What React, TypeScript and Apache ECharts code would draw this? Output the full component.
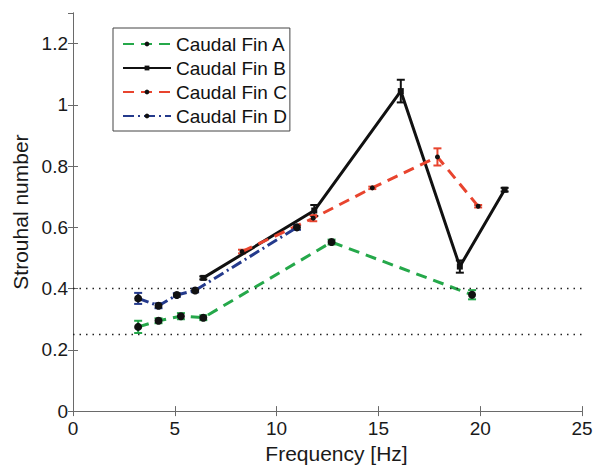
import React, { useEffect, useRef } from "react";
import * as echarts from "echarts";

const finAFreq = [3.2, 4.2, 5.3, 6.4, 12.7, 19.6];
const finASt = [0.275, 0.295, 0.31, 0.305, 0.552, 0.38];
const finAErr = [0.02, 0.008, 0.01, 0.008, 0.008, 0.015];

const finBFreq = [6.4, 11.85, 16.1, 19.0, 21.2];
const finBSt = [0.435, 0.655, 1.045, 0.472, 0.723];
const finBErr = [0.005, 0.018, 0.037, 0.02, 0.006];

const finCFreq = [8.3, 11.8, 14.7, 17.9, 19.9];
const finCSt = [0.521, 0.63, 0.729, 0.83, 0.669];
const finCErr = [0.006, 0.01, 0.004, 0.028, 0.004];

const finDFreq = [3.2, 4.2, 5.1, 6.0, 11.0];
const finDSt = [0.368, 0.344, 0.379, 0.394, 0.6];
const finDErr = [0.018, 0.008, 0.006, 0.006, 0.008];

const refLevels = [0.4, 0.25];
const seriesNames = ["Caudal Fin A", "Caudal Fin B", "Caudal Fin C", "Caudal Fin D"];

const FONT = "'Liberation Sans', Arial, Helvetica, sans-serif";

function pairs(xs: number[], ys: number[]) {
  return xs.map((x, i) => [x, ys[i]]);
}
function errData(xs: number[], ys: number[], es: number[]) {
  return xs.map((x, i) => [x, ys[i] - es[i], ys[i] + es[i]]);
}

function errorSeries(data: number[][], color: string) {
  return {
    type: "custom",
    silent: true,
    z: 1,
    data,
    renderItem: (params: any, api: any) => {
      const x = api.value(0);
      const lo = api.coord([x, api.value(1)]);
      const hi = api.coord([x, api.value(2)]);
      const w = 4;
      const st = { stroke: color, lineWidth: 2 };
      return {
        type: "group",
        children: [
          { type: "line", shape: { x1: lo[0], y1: lo[1], x2: hi[0], y2: hi[1] }, style: st },
          { type: "line", shape: { x1: lo[0] - w, y1: lo[1], x2: lo[0] + w, y2: lo[1] }, style: st },
          { type: "line", shape: { x1: hi[0] - w, y1: hi[1], x2: hi[0] + w, y2: hi[1] }, style: st },
        ],
      };
    },
  };
}

export default function App() {
  const ref = useRef<HTMLDivElement>(null);
  useEffect(() => {
    if (!ref.current) return;
    const chart = echarts.init(ref.current, undefined, { renderer: "svg" });
    const green = "#25a84a";
    const black = "#111111";
    const red = "#e8442e";
    const blue = "#243a8c";
    const axisLine = { show: true, lineStyle: { color: "#6a6a6a", width: 1 } };
    const tick = { show: true, inside: true, length: 5, lineStyle: { color: "#6a6a6a" } };
    const labelStyle = { color: "#1a1a1a", fontFamily: FONT, fontSize: 19 };
    const titleStyle = { color: "#1a1a1a", fontFamily: FONT, fontSize: 21 };
    chart.setOption({
      animation: false,
      grid: { left: 73, right: 19, top: 13, bottom: 56 },
      legend: {
        data: seriesNames,
        orient: "vertical",
        left: 113,
        top: 28,
        padding: [5, 3, 4, 9],
        itemGap: 2,
        itemWidth: 48,
        itemHeight: 6,
        backgroundColor: "#ffffff",
        borderColor: "#444444",
        borderWidth: 1,
        borderRadius: 0,
        textStyle: { ...labelStyle, lineHeight: 22, color: "#111" },
      },
      xAxis: [
        {
          type: "value",
          min: 0,
          max: 25,
          interval: 5,
          name: "Frequency [Hz]",
          nameLocation: "middle",
          nameGap: 23,
          nameTextStyle: { ...titleStyle, padding: [0, 0, 0, 18] },
          axisLine,
          axisTick: tick,
          axisLabel: { ...labelStyle, margin: 8 },
          splitLine: { show: false },
        },
        {
          type: "value",
          position: "top",
          min: 0,
          max: 25,
          interval: 5,
          axisLine,
          axisTick: tick,
          axisLabel: { show: false },
          splitLine: { show: false },
        },
      ],
      yAxis: [
        {
          type: "value",
          min: 0,
          max: 1.3,
          interval: 0.2,
          name: "Strouhal number",
          nameLocation: "middle",
          nameGap: 30,
          nameTextStyle: titleStyle,
          axisLine,
          axisTick: tick,
          axisLabel: { ...labelStyle, margin: 5, showMaxLabel: false },
          splitLine: { show: false },
        },
        {
          type: "value",
          position: "right",
          min: 0,
          max: 1.3,
          interval: 0.2,
          axisLine,
          axisTick: tick,
          axisLabel: { show: false },
          splitLine: { show: false },
        },
      ],
      series: [
        errorSeries(errData(finAFreq, finASt, finAErr), green),
        errorSeries(errData(finBFreq, finBSt, finBErr), black),
        errorSeries(errData(finCFreq, finCSt, finCErr), red),
        errorSeries(errData(finDFreq, finDSt, finDErr), blue),
        {
          name: seriesNames[0],
          type: "line",
          z: 3,
          data: pairs(finAFreq, finASt),
          symbol: "circle",
          symbolSize: 8,
          itemStyle: { color: black },
          lineStyle: { color: green, width: 3, type: [11, 7] },
          markLine: {
            silent: true,
            symbol: "none",
            label: { show: false },
            lineStyle: { color: "#222", width: 1.3, type: [1.5, 5] },
            data: refLevels.map((v) => ({ yAxis: v })),
          },
        },
        {
          name: seriesNames[1],
          type: "line",
          z: 3,
          data: pairs(finBFreq, finBSt),
          symbol: "rect",
          symbolSize: 6,
          itemStyle: { color: black },
          lineStyle: { color: black, width: 3 },
        },
        {
          name: seriesNames[2],
          type: "line",
          z: 3,
          data: pairs(finCFreq, finCSt),
          symbol: "circle",
          symbolSize: 5,
          itemStyle: { color: black },
          lineStyle: { color: red, width: 3, type: [11, 7] },
        },
        {
          name: seriesNames[3],
          type: "line",
          z: 3,
          data: pairs(finDFreq, finDSt),
          symbol: "circle",
          symbolSize: 8,
          itemStyle: { color: black },
          lineStyle: { color: blue, width: 3, type: [11, 4, 2, 4] },
        },
      ],
    });
    return () => chart.dispose();
  }, []);
  return <div ref={ref} style={{ width: 601, height: 469, position: "absolute", left: 0, top: 0 }} />;
}
